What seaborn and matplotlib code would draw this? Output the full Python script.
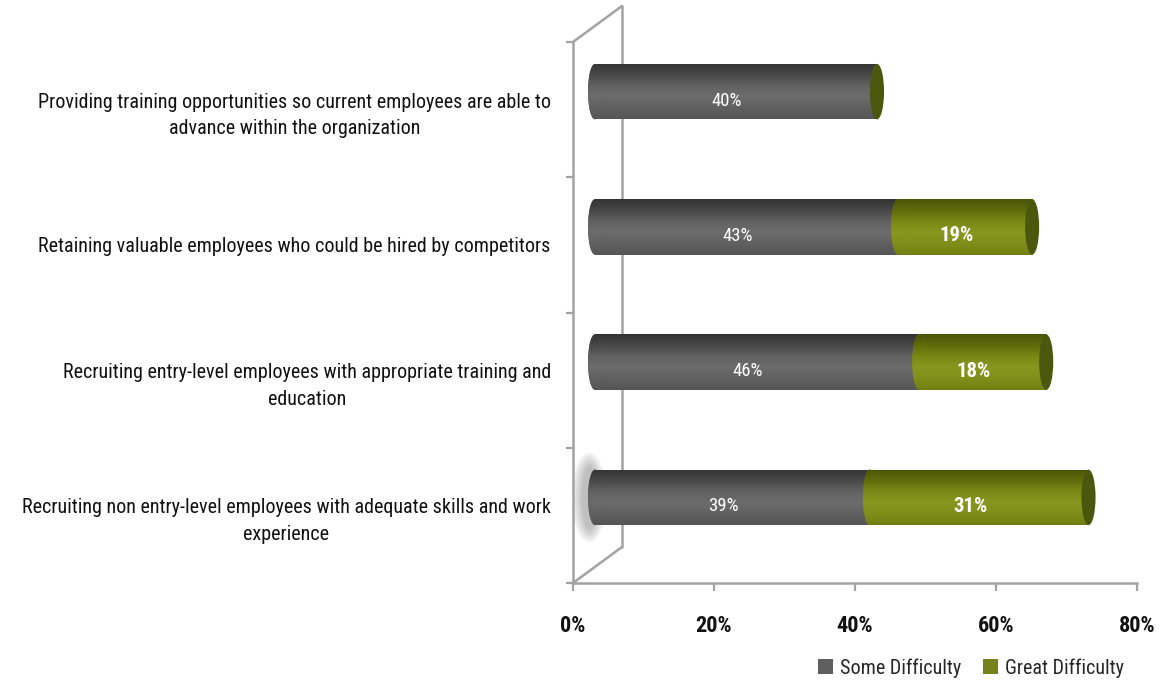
import numpy as np
import pandas as pd
import matplotlib
matplotlib.use("Agg")
import matplotlib.pyplot as plt
from matplotlib import font_manager
from matplotlib.transforms import ScaledTranslation
from matplotlib.patches import Ellipse, Patch
from matplotlib.lines import Line2D
from matplotlib.colors import LinearSegmentedColormap
import seaborn as sns

# ---- data -------------------------------------------------------------
categories = [
    "Providing training opportunities so current employees are able to\nadvance within the organization",
    "Retaining valuable employees who could be hired by competitors",
    "Recruiting entry-level employees with appropriate training and\neducation",
    "Recruiting non entry-level employees with adequate skills and work\nexperience",
]
some_difficulty = [40, 43, 46, 39]
great_difficulty = [0, 19, 18, 31]
series_names = ["Some Difficulty", "Great Difficulty"]
x_ticks = [0, 20, 40, 60, 80]
x_tick_labels = ["0%", "20%", "40%", "60%", "80%"]

# ---- style ------------------------------------------------------------
GRAY = "#5f5f5f"
GREEN = "#7a8918"
CAP_GREEN = "#4b570d"
FRAME = "#a3a3a3"

sns.set_theme(style="white")
installed = {f.name for f in font_manager.fontManager.ttflist}
narrow = [f for f in ["Roboto Condensed", "Liberation Sans Narrow", "Open Sans Condensed",
                      "DejaVu Sans Condensed"] if f in installed]
if narrow:
    FAMILY = [narrow[0], "DejaVu Sans"]
    STRETCH = "normal"
    FS = 14.5
else:
    FAMILY = ["DejaVu Sans"]
    STRETCH = "condensed"
    FS = 12.8
plt.rcParams["font.family"] = FAMILY
plt.rcParams["font.stretch"] = STRETCH

W, H, DPI = 1165, 683, 100
fig = plt.figure(figsize=(W / DPI, H / DPI), dpi=DPI)
ax_l, ax_r, ax_t, ax_b = 573, 1137, 42, 583
ax = fig.add_axes([ax_l / W, 1 - ax_b / H, (ax_r - ax_l) / W, (ax_b - ax_t) / H])

df = pd.DataFrame({
    "category": categories,
    "some": some_difficulty,
    "great": great_difficulty,
})
df["total"] = df["some"] + df["great"]

BAR_W = 0.41
# stacked bars: full total in green, the "some" part drawn over it in gray
sns.barplot(data=df, y="category", x="total", orient="h", color=GREEN,
            saturation=1, width=BAR_W, errorbar=None, ax=ax)
sns.barplot(data=df, y="category", x="some", orient="h", color=GRAY,
            saturation=1, width=BAR_W, errorbar=None, ax=ax)

# bars sit in the middle of the 3D depth: shift them up/right
depth = ScaledTranslation(22 / DPI, 18 / DPI, fig.dpi_scale_trans)
bar_tr = ax.transData + depth
# data labels sit a little in front of the bar axis
label_tr = ax.transData + ScaledTranslation(13 / DPI, 9 / DPI, fig.dpi_scale_trans)

n = len(categories)
green_patches = ax.patches[:n]
gray_patches = ax.patches[n:2 * n]

gray_cmap = LinearSegmentedColormap.from_list(
    "cyl_gray", ["#555555", "#606060", "#6c6c6c", "#626262", "#484848", "#333333"])
green_cmap = LinearSegmentedColormap.from_list(
    "cyl_green", ["#6f7e10", "#808f1a", "#88971f", "#7a8916", "#5f6c0c", "#4a5508"])
grad = np.linspace(0, 1, 128).reshape(-1, 1)

cap_w = 2.0  # ellipse width of the cylinder ends, in data units

for p in green_patches:
    p.set_transform(bar_tr)
    p.set_zorder(2)
    p.set_edgecolor("none")
for p in gray_patches:
    p.set_transform(bar_tr)
    p.set_zorder(2.2)
    p.set_edgecolor("none")


def shade(clip, cmap, z, x0, x1, y0, h):
    im = ax.imshow(grad, cmap=cmap, aspect="auto", interpolation="bilinear",
                   extent=(x0, x1, y0, y0 + h), transform=bar_tr, zorder=z)
    im.set_clip_path(clip)


for p in green_patches:
    if p.get_width() > 0:
        shade(p, green_cmap, 2.1, p.get_x(), p.get_x() + p.get_width(),
              p.get_y(), p.get_height())
for p in gray_patches:
    shade(p, gray_cmap, 2.3, p.get_x(), p.get_x() + p.get_width(),
          p.get_y(), p.get_height())

# soft shadow behind the left end of the lowest bar
low = gray_patches[-1]
cy = low.get_y() + low.get_height() / 2
for ew, eh in [(5.0, 0.66), (4.4, 0.62), (3.8, 0.58), (3.2, 0.54), (2.6, 0.5), (2.2, 0.47)]:
    ax.add_patch(Ellipse((-0.8, cy), ew, eh, transform=bar_tr,
                         facecolor="#707070", edgecolor="none",
                         alpha=0.09, zorder=1.5))

# rounded left ends, curved segment joins and dark right end caps
for gp, s, tot in zip(gray_patches, df["some"], df["total"]):
    y0, h = gp.get_y(), gp.get_height()
    yc = y0 + h / 2
    left = Ellipse((0, yc), cap_w, h, transform=bar_tr,
                   facecolor=GRAY, edgecolor="none", zorder=2.4)
    ax.add_patch(left)
    shade(left, gray_cmap, 2.45, -cap_w / 2, cap_w / 2, y0, h)
    if tot > s:
        join = Ellipse((s, yc), cap_w, h, transform=bar_tr,
                       facecolor=GREEN, edgecolor="none", zorder=2.5)
        ax.add_patch(join)
        shade(join, green_cmap, 2.55, s - cap_w / 2, s + cap_w / 2, y0, h)
    ax.add_patch(Ellipse((tot, yc), cap_w, h, transform=bar_tr,
                         facecolor=CAP_GREEN, edgecolor="none", zorder=2.6))

# value labels
for i, (s, g) in enumerate(zip(df["some"], df["great"])):
    ax.text(s / 2, i, f"{s}%", transform=label_tr, ha="center", va="center",
            color="white", fontsize=FS - 1, zorder=5)
    if g > 0:
        ax.text(s + g / 2, i, f"{g}%", transform=label_tr, ha="center", va="center",
                color="white", fontsize=FS + 0.5, fontweight="bold", zorder=5)

# axes / scales
ax.set_xlim(0, 80)
ax.set_ylim(n - 0.5, -0.5)
ax.set_xlabel("")
ax.set_ylabel("")
ax.set_xticks(x_ticks)
ax.set_xticklabels(x_tick_labels, fontsize=FS + 1.5, fontweight="bold", color="#111111")
ax.set_yticks(range(n))
ax.set_yticklabels(categories, fontsize=FS, color="#111111",
                   multialignment="center", linespacing=1.5)
ax.set_yticks(np.arange(-0.5, n, 1.0), minor=True)
ax.tick_params(axis="y", which="major", length=0, pad=16)
ax.tick_params(axis="y", which="minor", length=5, width=1.6, color=FRAME, direction="out", left=True)
ax.tick_params(axis="x", which="major", length=6, width=1.6, color=FRAME, direction="out",
               bottom=True, pad=17)

for side in ["top", "right"]:
    ax.spines[side].set_visible(False)
for side in ["left", "bottom"]:
    ax.spines[side].set_color(FRAME)
    ax.spines[side].set_linewidth(1.8)

# back wall of the 3D frame
ax_w_px, ax_h_px = ax_r - ax_l, ax_b - ax_t
dx, dy = 49 / ax_w_px, 36 / ax_h_px
frame_kw = dict(transform=ax.transAxes, color=FRAME, lw=1.8, clip_on=False, zorder=1)
ax.add_line(Line2D([dx, dx], [dy, 1 + dy], **frame_kw))
ax.add_line(Line2D([0, dx], [1, 1 + dy], **frame_kw))
ax.add_line(Line2D([0, dx], [0, dy], **frame_kw))

# legend
handles = [Patch(facecolor="#5f5f5f", edgecolor="none"),
           Patch(facecolor="#75831a", edgecolor="none")]
fig.legend(handles, series_names, loc="center",
           bbox_to_anchor=(971 / W, 1 - 668 / H), ncol=2, frameon=False,
           fontsize=FS, handlelength=0.75, handleheight=0.75, handletextpad=0.35,
           columnspacing=1.1)

fig.savefig("out.png", dpi=DPI, facecolor="white")
